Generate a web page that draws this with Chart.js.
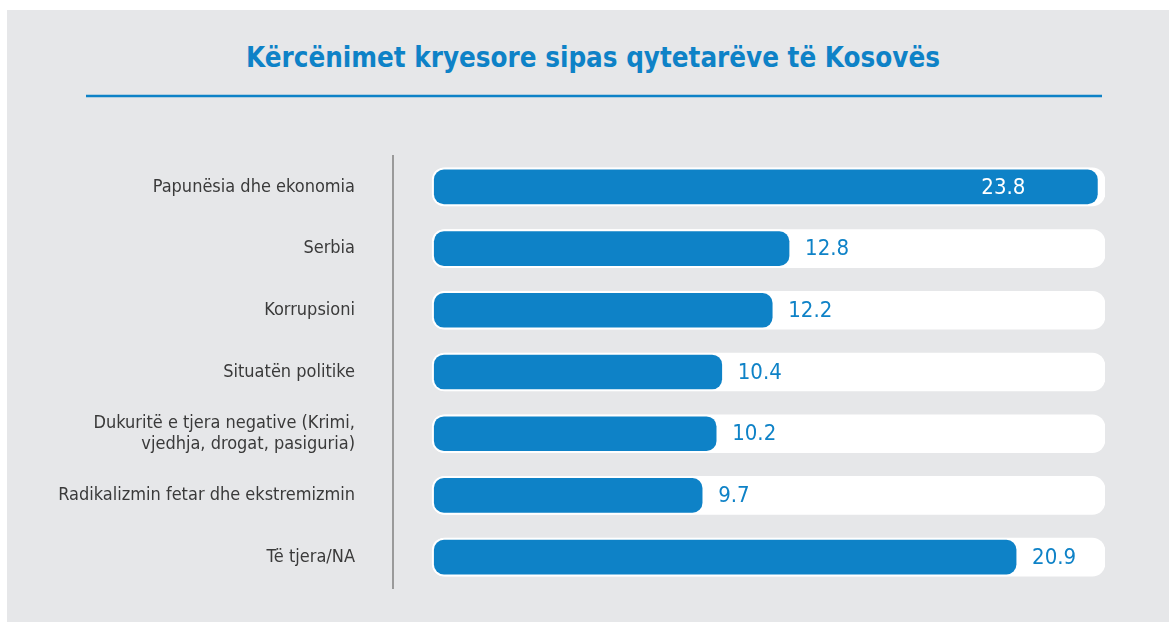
<!DOCTYPE html>
<html>
<head>
<meta charset="utf-8">
<script src="https://cdn.jsdelivr.net/npm/chart.js@4/dist/chart.umd.min.js"></script>
<style>
  html, body { margin: 0; padding: 0; background: #fff; overflow: hidden; }
  #panel { position: absolute; left: 7px; top: 10px; width: 1162px; height: 612px; background: #e6e7e9; }
  #chart { position: absolute; left: 0; top: 0; }
  #title {
    position: absolute; left: 0; top: 37px; width: 1186px; text-align: center;
    font: bold 27.5px 'Liberation Sans Narrow', 'DejaVu Sans Condensed', sans-serif;
    color: #0e82c7; line-height: 40px;
  }
</style>
</head>
<body>
<div id="panel"></div>
<div id="title"></div>
<canvas id="chart" width="1169" height="622"></canvas>
<script>
  const titleText = "Kërcënimet kryesore sipas qytetarëve të Kosovës";
  const categories = [
    "Papunësia dhe ekonomia",
    "Serbia",
    "Korrupsioni",
    "Situatën politike",
    ["Dukuritë e tjera negative (Krimi,", "vjedhja, drogat, pasiguria)"],
    "Radikalizmin fetar dhe ekstremizmin",
    "Të tjera/NA"
  ];
  const values = [23.8, 12.8, 12.2, 10.4, 10.2, 9.7, 20.9];
  const trackMax = 24;
  const trackValues = categories.map(() => trackMax);

  const blue = "#0e82c7";
  const narrow = "'Liberation Sans Narrow', 'DejaVu Sans Condensed', sans-serif";

  document.getElementById("title").textContent = titleText;

  // title underline
  const ruleLine = {
    id: "ruleLine",
    afterDraw(chart) {
      const ctx = chart.ctx;
      ctx.save();
      ctx.strokeStyle = blue;
      ctx.lineWidth = 2.5;
      ctx.beginPath();
      ctx.moveTo(86, 96);
      ctx.lineTo(1102, 96);
      ctx.stroke();
      ctx.restore();
    }
  };

  // value labels at the bar ends
  const valueLabels = {
    id: "valueLabels",
    afterDatasetsDraw(chart) {
      const ctx = chart.ctx;
      const meta = chart.getDatasetMeta(0);
      const trackEnd = chart.scales.x.getPixelForValue(trackMax);
      ctx.save();
      ctx.font = "22px " + narrow;
      ctx.textBaseline = "middle";
      meta.data.forEach((bar, i) => {
        const text = values[i].toFixed(1);
        const w = ctx.measureText(text).width;
        if (bar.x + 12 + w > trackEnd) {
          ctx.fillStyle = "#ffffff";
          ctx.textAlign = "right";
          ctx.fillText(text, bar.x - 74, bar.y + 1);
        } else {
          ctx.fillStyle = blue;
          ctx.textAlign = "left";
          ctx.fillText(text, bar.x + 14, bar.y + 1);
        }
      });
      ctx.restore();
    }
  };

  new Chart(document.getElementById("chart"), {
    type: "bar",
    data: {
      labels: categories,
      datasets: [
        {
          data: values,
          backgroundColor: blue,
          borderColor: "#ffffff",
          borderWidth: 2,
          borderRadius: 12,
          borderSkipped: false,
          barThickness: 38,
          grouped: false,
          order: 0
        },
        {
          data: trackValues,
          backgroundColor: "#ffffff",
          borderWidth: 0,
          borderRadius: 13,
          borderSkipped: false,
          barThickness: 38,
          grouped: false,
          order: 1
        }
      ]
    },
    options: {
      indexAxis: "y",
      responsive: false,
      animation: false,
      layout: { padding: { left: 0, right: 64, top: 156, bottom: 34 } },
      plugins: {
        legend: { display: false },
        tooltip: { enabled: false }
      },
      scales: {
        x: {
          min: -1.4,
          max: trackMax,
          display: false
        },
        y: {
          afterFit(scale) {
            scale.width = 393;
            scale.paddingTop = 0;
            scale.paddingBottom = 0;
          },
          grid: { display: false },
          border: { display: true, color: "#9a9a9a", width: 2 },
          ticks: {
            color: "#3a3a3a",
            padding: 30,
            font: { family: narrow, size: 18 }
          }
        }
      }
    },
    plugins: [ruleLine, valueLabels]
  });
</script>
</body>
</html>
